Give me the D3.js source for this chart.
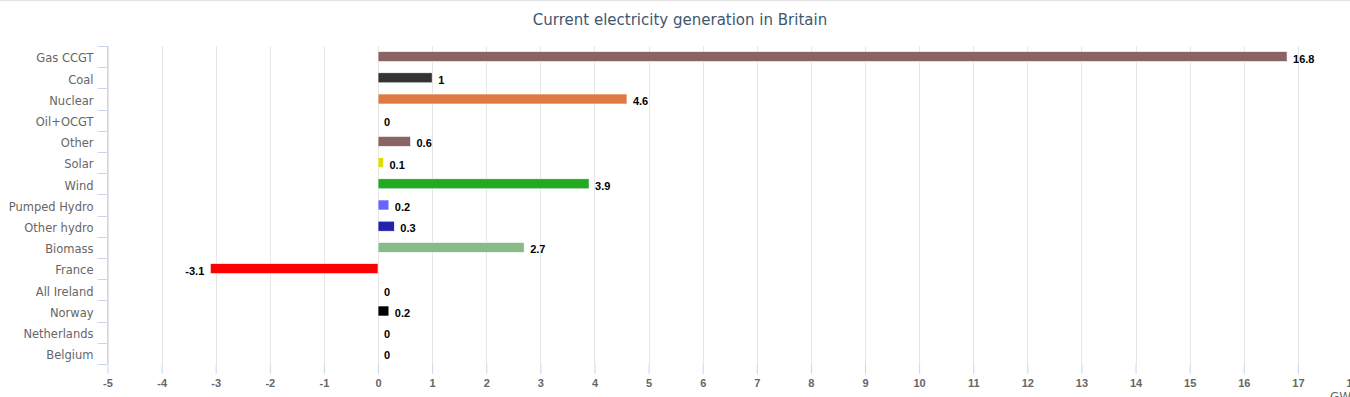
<!DOCTYPE html>
<html>
<head>
<meta charset="utf-8">
<script src="https://cdn.jsdelivr.net/npm/d3@7"></script>
<style>
html,body{margin:0;padding:0;background:#fff;overflow:hidden;}
svg{display:block;}
</style>
</head>
<body>
<script>
const categories = ["Gas CCGT","Coal","Nuclear","Oil+OCGT","Other","Solar","Wind","Pumped Hydro","Other hydro","Biomass","France","All Ireland","Norway","Netherlands","Belgium"];
const values = [16.8, 1, 4.6, 0, 0.6, 0.1, 3.9, 0.2, 0.3, 2.7, -3.1, 0, 0.2, 0, 0];
const barColors = ["#8a6464","#333333","#e07a44","#000000","#8a6464","#dddd00","#22aa22","#6666ff","#2222aa","#88bb88","#ff0000","#888888","#000000","#888888","#888888"];
const xTicks = d3.range(-5, 19, 1);
const titleText = "Current electricity generation in Britain";
const unitLabel = "GW";

const W = 1350, H = 397;
const svg = d3.select("body").append("svg").attr("width", W).attr("height", H);

const fmt = d => String(d); // plain hyphen-minus as in the reference

// top border
svg.append("line").attr("x1",0).attr("x2",W).attr("y1",0.5).attr("y2",0.5)
  .attr("stroke","#e6e6e6").attr("stroke-width",1.5);

const plotTop = 46, plotBottom = 364, plotLeft = 107.5, plotRight = 1352;
const x = d3.scaleLinear().domain([-5, 18]).range([plotLeft, plotRight]);
const y = d3.scaleBand().domain(categories).range([plotTop, plotBottom]).padding(0);

// title
svg.append("text").attr("x", 680).attr("y", 25).attr("text-anchor","middle")
  .attr("font-family","'DejaVu Sans', Verdana, sans-serif").attr("font-size","15px")
  .attr("fill","#3e576f").text(titleText);

// gridlines
svg.append("g").selectAll("line").data(xTicks).join("line")
  .attr("x1", d => Math.round(x(d)) + 0.5).attr("x2", d => Math.round(x(d)) + 0.5)
  .attr("y1", plotTop).attr("y2", plotBottom)
  .attr("stroke", "#e6e6e6").attr("stroke-width", 1);

// bottom value axis (ticks + labels)
const xAxis = d3.axisBottom(x).tickValues(xTicks).tickSize(10).tickPadding(5).tickFormat(fmt);
const gx = svg.append("g").attr("transform", `translate(0,${plotBottom})`).call(xAxis);
gx.select(".domain").remove();
gx.selectAll(".tick line").attr("stroke", "#ccd6eb");
gx.selectAll(".tick text").attr("fill", "#666666")
  .attr("font-family","'Liberation Sans', Arial, sans-serif").attr("font-size","11px").attr("font-weight","bold");

// category axis
const boundaries = d3.range(categories.length + 1).map(i => plotTop + i * y.step());
svg.append("line").attr("x1", plotLeft).attr("x2", plotLeft).attr("y1", plotTop).attr("y2", plotBottom)
  .attr("stroke", "#ccd6eb").attr("stroke-width", 1);
svg.append("g").selectAll("line").data(boundaries).join("line")
  .attr("x1", plotLeft - 10).attr("x2", plotLeft)
  .attr("y1", d => Math.round(d) + 0.5).attr("y2", d => Math.round(d) + 0.5)
  .attr("stroke", "#ccd6eb").attr("stroke-width", 1);
const gy = svg.append("g").attr("transform", `translate(${plotLeft},0)`)
  .call(d3.axisLeft(y).tickSize(0).tickPadding(14));
gy.select(".domain").remove();
gy.selectAll(".tick text").attr("fill", "#666666").attr("dy", "0.5em")
  .attr("font-family","'DejaVu Sans', Verdana, sans-serif").attr("font-size","11.5px");

// bars
const barH = 10;
svg.append("g").selectAll("rect").data(values).join("rect")
  .attr("x", d => x(Math.min(0, d)))
  .attr("width", d => Math.abs(x(d) - x(0)))
  .attr("y", (d, i) => y(categories[i]) + y.bandwidth() / 2 - barH / 2)
  .attr("height", barH)
  .attr("fill", (d, i) => barColors[i])
  .attr("stroke", "#ffffff").attr("stroke-width", 0.6)
  .attr("display", d => d === 0 ? "none" : null);

// data labels
svg.append("g").selectAll("text").data(values).join("text")
  .attr("x", d => d < 0 ? x(d) - 6 : x(d) + 6)
  .attr("y", (d, i) => y(categories[i]) + y.bandwidth() / 2 + 6)
  .attr("text-anchor", d => d < 0 ? "end" : "start")
  .attr("font-family","'Liberation Sans', Arial, sans-serif").attr("font-size","11px").attr("font-weight","bold")
  .attr("fill", "#000000")
  .text(fmt);

// unit label
svg.append("text").attr("x", 1330).attr("y", 401)
  .attr("font-family","'DejaVu Sans', Verdana, sans-serif").attr("font-size","12px")
  .attr("fill", "#666666").text(unitLabel);
</script>
</body>
</html>
